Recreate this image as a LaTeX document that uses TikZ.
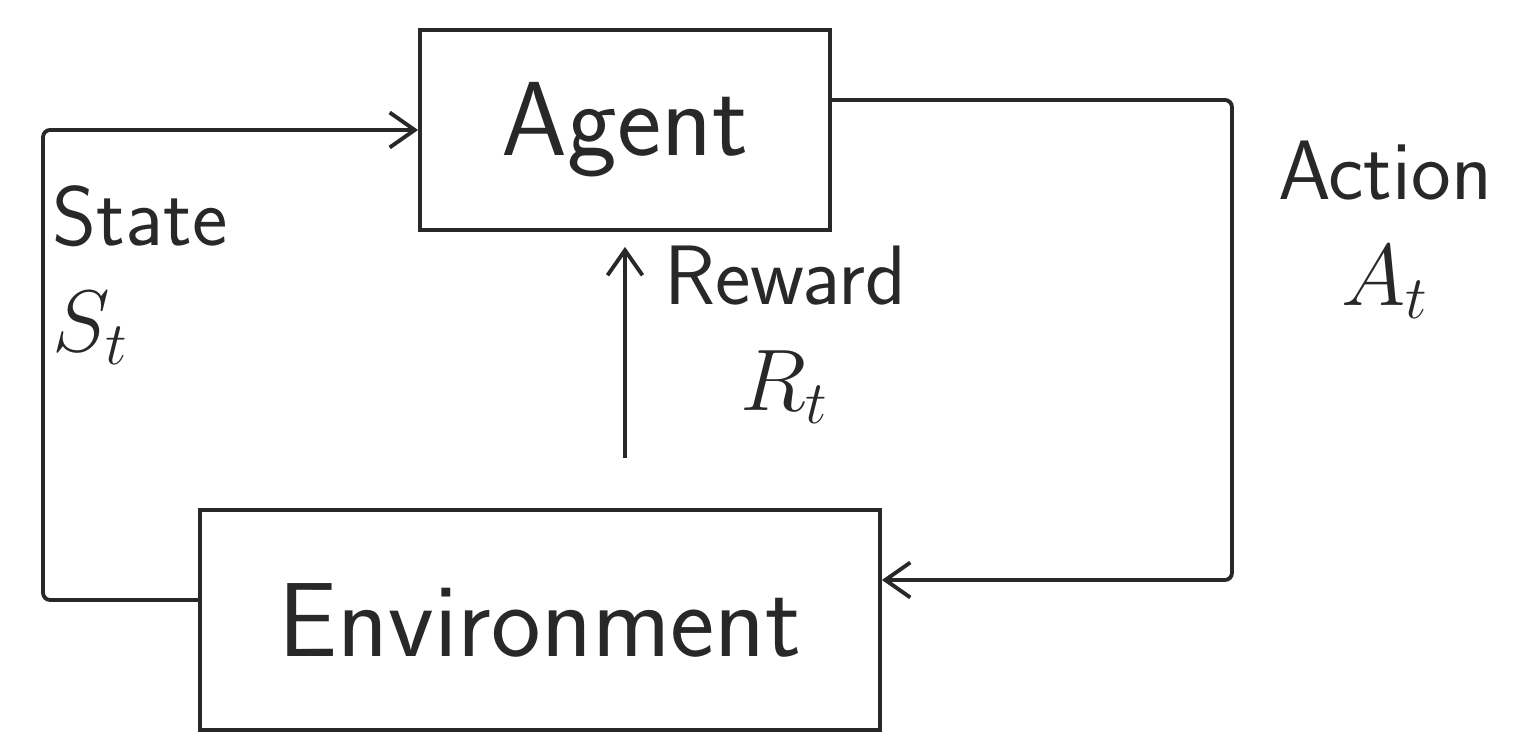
\documentclass[tikz,border=0pt]{standalone}
\usepackage{tikz}
\usetikzlibrary{arrows.meta,positioning,calc}
\definecolor{inkgrey}{RGB}{40,40,40}
\tikzset{
  base/.style={font=\sffamily, align=center, inner sep=2pt, text=inkgrey},
  box/.style={base, rectangle, draw=inkgrey, fill=white, line width=1.1pt, font=\sffamily\fontsize{30}{36}\selectfont},
  lbl/.style={base, font=\sffamily\fontsize{24}{30}\selectfont},
  arr/.style={-{Straight Barb[length=2.5mm,width=3.5mm]}, line width=1.1pt, draw=inkgrey},
  link/.style={arr, rounded corners=2pt},
}
\begin{document}
\begin{tikzpicture}
  \useasboundingbox (0,0) rectangle (15.21,7.45);
  \node[box,minimum width=4.1cm,minimum height=2.0cm] (agent) at (6.25,6.15) {Agent};
  \node[box,minimum width=6.8cm,minimum height=2.2cm] (env) at (5.4,1.25) {Environment};
  \draw[link] ([yshift=2mm]env.west) -- ++(-1.55,0) |- (agent.west);
  \draw[link] ([yshift=3mm]agent.east) -- ++(4.0,0) |- ([yshift=4mm]env.east);
  \draw[arr,shorten <=5mm,shorten >=1.5mm] (env.north -| agent.south) -- (agent.south);
  \node[lbl,align=left] (lblstate) at (1.4,4.7) {State\\$S_t$};
  \node[lbl] (lblaction) at (13.85,5.15) {Action\\$A_t$};
  \node[lbl] (lblreward) at (7.85,4.1) {Reward\\$R_t$};
\end{tikzpicture}
\end{document}
